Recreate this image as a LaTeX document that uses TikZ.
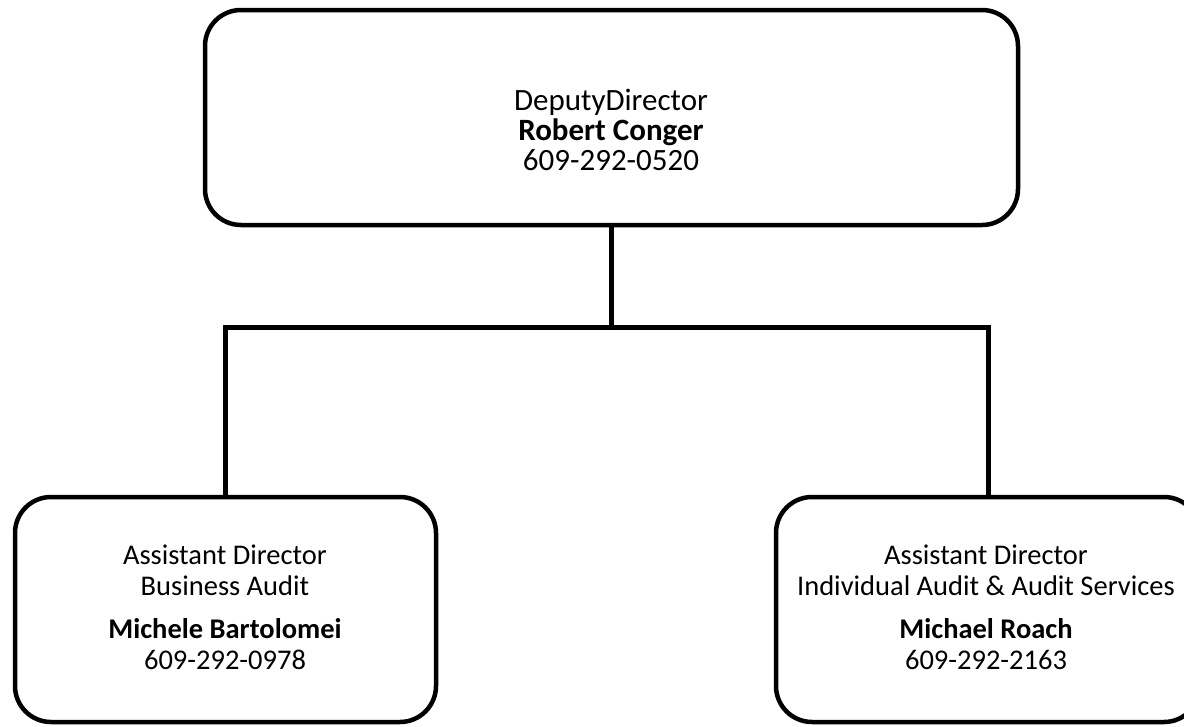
\documentclass[tikz,border=0pt]{standalone}
\usepackage{fontspec}
\setmainfont{Carlito}
\begin{document}
\begin{tikzpicture}[x=1pt,y=1pt,
  box/.style={draw=black, line width=4.5pt, rounded corners=36pt, fill=white, inner sep=0pt},
  lbl/.style={align=center, inner sep=0pt},
  conn/.style={draw=black, line width=5pt, line cap=rect}]
\useasboundingbox (0,0) rectangle (1184,-726);
\clip (0,0) rectangle (1184,-726);
% connectors
\coordinate (busL) at (225,-327);
\coordinate (busR) at (988,-327);
\node[box, minimum width=813pt, minimum height=215pt] (top) at (611.5,-117.5) {};
\node[box, minimum width=421pt, minimum height=225pt] (left) at (225.5,-609.5) {};
\node[box, minimum width=424pt, minimum height=225pt] (right) at (988,-609.5) {};
\draw[conn] (top.south) -- (top.south |- busL);
\draw[conn, line cap=butt] (left.north -| busL) -- (busL) -- (busR) -- (right.north -| busR);
% texts
\node[lbl, font=\fontsize{31}{30}\selectfont] (toptext) at (611,-130) {DeputyDirector\\\textbf{Robert Conger}\\609-292-0520};
\node[lbl, font=\fontsize{28.5}{31}\selectfont] (lefttext) at (225,-607) {Assistant Director\\Business Audit\\[12pt]\textbf{Michele Bartolomei}\\609-292-0978};
\node[lbl, font=\fontsize{28.5}{31}\selectfont] (righttext) at (986,-607) {Assistant Director\\Individual Audit \& Audit Services\\[12pt]\textbf{Michael Roach}\\609-292-2163};
\end{tikzpicture}
\end{document}
